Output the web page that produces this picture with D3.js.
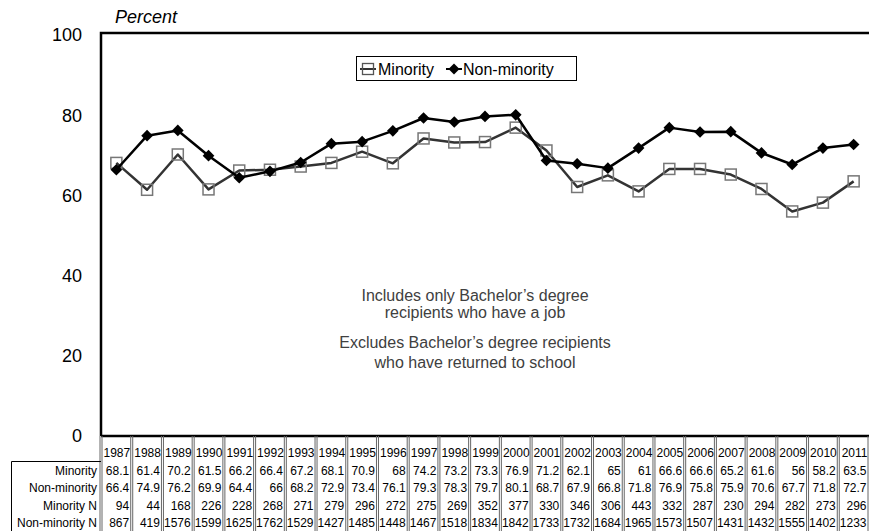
<!DOCTYPE html>
<html><head><meta charset="utf-8">
<script src="https://cdn.jsdelivr.net/npm/d3@7"></script>
<style>body{margin:0;background:#fff;}svg{display:block;font-family:"Liberation Sans",Arial,sans-serif;}</style>
</head><body><svg id="c" width="869" height="531"></svg>
<script>
const years = [1987,1988,1989,1990,1991,1992,1993,1994,1995,1996,1997,1998,1999,2000,2001,2002,2003,2004,2005,2006,2007,2008,2009,2010,2011];
const minority = [68.1,61.4,70.2,61.5,66.2,66.4,67.2,68.1,70.9,68,74.2,73.2,73.3,76.9,71.2,62.1,65,61,66.6,66.6,65.2,61.6,56,58.2,63.5];
const nonMinority = [66.4,74.9,76.2,69.9,64.4,66,68.2,72.9,73.4,76.1,79.3,78.3,79.7,80.1,68.7,67.9,66.8,71.8,76.9,75.8,75.9,70.6,67.7,71.8,72.7];
const minorityN = [94,44,168,226,228,268,271,279,296,272,275,269,352,377,330,346,306,443,332,287,230,294,282,273,296];
const nonMinorityN = [867,419,1576,1599,1625,1762,1529,1427,1485,1448,1467,1518,1834,1842,1733,1732,1684,1965,1573,1507,1431,1432,1555,1402,1233];
const yTicks = [0,20,40,60,80,100];
const rowLabels = ["Minority","Non-minority","Minority N","Non-minority N"];
const notes = [["Includes only Bachelor\u2019s degree","recipients who have a job"],["Excludes Bachelor\u2019s degree recipients","who have returned to school"]];

const svg = d3.select("#c");
const L = 101, R = 869, T = 35, B = 436;
const x = d3.scaleBand().domain(years).range([L, R]);
const y = d3.scaleLinear().domain([0,100]).range([B, T]);

// y tick labels
svg.append("g").selectAll("text").data(yTicks).join("text")
  .attr("x", 82).attr("y", d => y(d)).attr("dy", "0.36em")
  .attr("text-anchor","end").attr("font-size", 18).attr("fill","#000").text(d => d);
svg.append("text").attr("x", 115).attr("y", 23).attr("font-size", 18)
  .attr("font-style","italic").text("Percent");

// frame
svg.append("path").attr("d", `M${L},${B}V${T-2}H${R}`).attr("fill","none").attr("stroke","#000").attr("stroke-width",2.5);
svg.append("line").attr("x1",L).attr("x2",R).attr("y1",B).attr("y2",B).attr("stroke","#000").attr("stroke-width",2.5);

// annotations
const noteY = [[295,312],[342,362]];
notes.forEach((grp,i) => grp.forEach((t,j) => {
  svg.append("text").attr("x", 475).attr("y", noteY[i][j]).attr("dy","0.36em")
    .attr("text-anchor","middle").attr("font-size",16).attr("fill","#404040").text(t);
}));

const cx = d => x(d) + x.bandwidth()/2;
// minority line
const minLine = d3.line().x((d,i) => cx(years[i])).y(d => y(d));
svg.append("path").datum(minority).attr("d", minLine).attr("fill","none").attr("stroke","#333").attr("stroke-width",2.5).attr("stroke-linejoin","round");
svg.append("g").selectAll("rect").data(minority).join("rect")
  .attr("x",(d,i)=>cx(years[i])-5.5).attr("y",d=>y(d)-5.5).attr("width",11).attr("height",11)
  .attr("fill","none").attr("stroke","#777").attr("stroke-width",1.5);
// non-minority line
const nonLine = d3.line().x((d,i) => cx(years[i])).y(d => y(d));
svg.append("path").datum(nonMinority).attr("d", nonLine).attr("fill","none").attr("stroke","#000").attr("stroke-width",2.5).attr("stroke-linejoin","round");
svg.append("g").selectAll("path").data(nonMinority).join("path")
  .attr("d", d3.symbol().type(d3.symbolSquare).size(68)).attr("transform",(d,i)=>`translate(${cx(years[i])},${y(d)}) rotate(45)`)
  .attr("fill","#000");

// legend
const lg = svg.append("g");
lg.append("rect").attr("x",356.5).attr("y",56.5).attr("width",220).attr("height",24).attr("fill","#fff").attr("stroke","#000").attr("stroke-width",1);
lg.append("line").attr("x1",360).attr("x2",376).attr("y1",69).attr("y2",69).attr("stroke","#333").attr("stroke-width",2);
lg.append("rect").attr("x",362.5).attr("y",63.5).attr("width",11).attr("height",11).attr("fill","none").attr("stroke","#555").attr("stroke-width",1.3);
lg.append("text").attr("x",378).attr("y",69).attr("dy","0.36em").attr("font-size",16).text("Minority");
lg.append("line").attr("x1",446).attr("x2",462).attr("y1",69).attr("y2",69).attr("stroke","#000").attr("stroke-width",2);
lg.append("path").attr("d", d3.symbol().type(d3.symbolSquare).size(60)).attr("transform","translate(454,69) rotate(45)").attr("fill","#000");
lg.append("text").attr("x",463).attr("y",69).attr("dy","0.36em").attr("font-size",16).text("Non-minority");

// data table
const rowTop = 461, rowH = 17.3;
const tableRows = [minority, nonMinority, minorityN, nonMinorityN];
const tg = svg.append("g");
const seps = years.map(d => x(d)).concat([R]);
seps.forEach(sx => {
  [-1,1].forEach(o => tg.append("line").attr("x1",sx+o).attr("x2",sx+o).attr("y1",B).attr("y2",531)
    .attr("stroke","#666").attr("stroke-width",1));
});
tg.append("path").attr("d",`M11.5,531V${rowTop}.5H${L}`).attr("fill","none").attr("stroke","#000").attr("stroke-width",1);
tg.selectAll("text.yr").data(years).join("text").attr("class","yr")
  .attr("x", d => x(d)+x.bandwidth()-1.5).attr("y", 453).attr("dy","0.36em")
  .attr("text-anchor","end").attr("font-size",12).text(d => d);
tableRows.forEach((row,r) => {
  const ry = rowTop + rowH*(r+0.5) + 1;
  tg.append("text").attr("x",97).attr("y",ry).attr("dy","0.36em").attr("text-anchor","end").attr("font-size",12).text(rowLabels[r]);
  tg.append("g").selectAll("text").data(row).join("text")
    .attr("x",(d,i)=>x(years[i])+x.bandwidth()-2.5).attr("y",ry).attr("dy","0.36em")
    .attr("text-anchor","end").attr("font-size",12).text(d => String(d));
});
</script></body></html>
